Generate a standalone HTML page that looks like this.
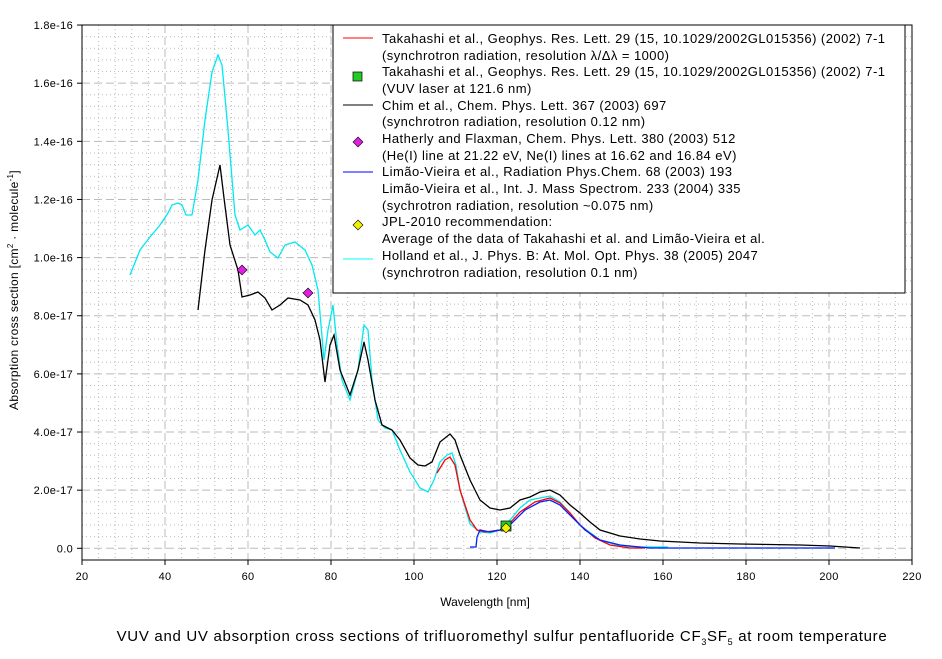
<!DOCTYPE html>
<html><head><meta charset="utf-8"><style>
body{margin:0;background:#fff;width:942px;height:654px;overflow:hidden;font-family:"Liberation Sans",sans-serif}
svg text{font-family:"Liberation Sans",sans-serif}
</style></head><body>
<svg id="s" width="942" height="654" xmlns="http://www.w3.org/2000/svg">
<g id="grid"></g>
<rect x="82" y="25" width="830" height="535" fill="none" stroke="#000" stroke-width="1"/>
<g id="ticks" font-size="11" letter-spacing="0.3"></g>
<g id="curves" fill="none" stroke-width="1.3"></g>
<polygon points="242,265 247,270 242,275 237,270" fill="#e020e0" stroke="#000" stroke-width="0.6"/>
<polygon points="308,288 313,293 308,298 303,293" fill="#e020e0" stroke="#000" stroke-width="0.6"/>
<rect x="501" y="521" width="10" height="10" fill="#22cc22" stroke="#000" stroke-width="0.7"/>
<polygon points="506,523 511,528 506,533 501,528" fill="#f0f000" stroke="#000" stroke-width="0.6"/>
<g>
<rect x="333" y="25" width="572" height="268" fill="#fff" stroke="#000"/>
<g font-size="13" letter-spacing="0.45" fill="#000">
<line x1="343" y1="38" x2="373" y2="38" stroke="#f00"/>
<text x="382" y="43">Takahashi et al., Geophys. Res. Lett. 29 (15, 10.1029/2002GL015356) (2002) 7-1</text>
<text x="382" y="60">(synchrotron radiation, resolution λ/Δλ = 1000)</text>
<rect x="353" y="72" width="9" height="9" fill="#22cc22" stroke="#000" stroke-width="0.7"/>
<text x="382" y="76">Takahashi et al., Geophys. Res. Lett. 29 (15, 10.1029/2002GL015356) (2002) 7-1</text>
<text x="382" y="93">(VUV laser at 121.6 nm)</text>
<line x1="343" y1="105" x2="373" y2="105" stroke="#000"/>
<text x="382" y="110">Chim et al., Chem. Phys. Lett. 367 (2003) 697</text>
<text x="382" y="126">(synchrotron radiation, resolution 0.12 nm)</text>
<polygon points="358,137 363,142 358,147 353,142" fill="#e020e0" stroke="#000" stroke-width="0.6"/>
<text x="382" y="143">Hatherly and Flaxman, Chem. Phys. Lett. 380 (2003) 512</text>
<text x="382" y="160">(He(I) line at 21.22 eV, Ne(I) lines at 16.62 and 16.84 eV)</text>
<line x1="343" y1="172" x2="373" y2="172" stroke="#00f"/>
<text x="382" y="176">Limão-Vieira et al., Radiation Phys.Chem. 68 (2003) 193</text>
<text x="382" y="193">Limão-Vieira et al., Int. J. Mass Spectrom. 233 (2004) 335</text>
<text x="382" y="210">(sychrotron radiation, resolution ~0.075 nm)</text>
<polygon points="358,220 363,225 358,230 353,225" fill="#f0f000" stroke="#000" stroke-width="0.6"/>
<text x="382" y="226">JPL-2010 recommendation:</text>
<text x="382" y="243">Average of the data of Takahashi et al. and Limão-Vieira et al.</text>
<line x1="343" y1="259" x2="373" y2="259" stroke="#0ff"/>
<text x="382" y="260">Holland et al., J. Phys. B: At. Mol. Opt. Phys. 38 (2005) 2047</text>
<text x="382" y="277">(synchrotron radiation, resolution 0.1 nm)</text>
</g></g>
<text x="485" y="606" font-size="12" text-anchor="middle">Wavelength [nm]</text>
<text transform="translate(18,290) rotate(-90)" font-size="12" letter-spacing="0.3" text-anchor="middle">Absorption cross section [cm<tspan font-size="8" dy="-5">2</tspan><tspan dy="5"> · molecule</tspan><tspan font-size="8" dy="-5">-1</tspan><tspan dy="5">]</tspan></text>
<text x="502" y="641" font-size="15" letter-spacing="0.7" text-anchor="middle">VUV and UV absorption cross sections of trifluoromethyl sulfur pentafluoride CF<tspan font-size="9" dy="4">3</tspan><tspan dy="-4">SF</tspan><tspan font-size="9" dy="4">5</tspan><tspan dy="-4"> at room temperature</tspan></text>
</svg>
<script>
var ns="http://www.w3.org/2000/svg";
function X(x){return 82+(x-20)*4.15}
function Y(y){return 548.3-y*29.07}
var g=document.getElementById('grid'),t=document.getElementById('ticks');
function L(p,x1,y1,x2,y2,st,da){var l=document.createElementNS(ns,'line');l.setAttribute('x1',x1);l.setAttribute('y1',y1);l.setAttribute('x2',x2);l.setAttribute('y2',y2);l.setAttribute('stroke',st);if(da)l.setAttribute('stroke-dasharray',da);p.appendChild(l);}
function T(x,y,s,a){var e=document.createElementNS(ns,'text');e.setAttribute('x',x);e.setAttribute('y',y);e.setAttribute('text-anchor',a);e.textContent=s;t.appendChild(e);}
for(var x=24;x<220;x+=4){if(x%20==0)continue;L(g,X(x),25,X(x),560,'#bbb','1 3');}
for(var y=-0.4;y<18;y+=0.4){var yy=Math.round(y*10);if(yy%20==0)continue;var py=Y(y);if(py>559||py<26)continue;L(g,82,py,912,py,'#bbb','1 3');}
for(var x=40;x<220;x+=20){L(g,X(x),25,X(x),560,'#bbb','8 4');}
for(var y=0;y<18;y+=2){L(g,82,Y(y),912,Y(y),'#bbb','8 4');}
for(var x=20;x<=220;x+=20){L(t,X(x),560,X(x),565,'#000');T(X(x),580,x,'middle');}
var yl=['0.0','2.0e-17','4.0e-17','6.0e-17','8.0e-17','1.0e-16','1.2e-16','1.4e-16','1.6e-16','1.8e-16'];
for(var i=0;i<10;i++){L(t,77,Y(i*2),82,Y(i*2),'#000');T(73,Y(i*2)+4,yl[i],'end');}
var c=document.getElementById('curves');
function P(pts,col){var p=document.createElementNS(ns,'polyline');p.setAttribute('points',pts);p.setAttribute('stroke',col);c.appendChild(p);}
P("130,275 140,250 150,237 160,225 168,213 172,205 178,203 182,205 186,215 192,215 198,180 205,120 212,72 218,55 222,65 228,130 235,215 240,230 248,225 255,235 260,230 265,240 270,252 278,258 285,245 295,242 305,250 312,265 318,290 324,360 328,330 333,305 337,345 342,380 350,400 358,370 364,325 368,330 372,380 378,420 385,428 392,430 400,450 410,472 420,488 428,492 434,480 440,462 447,455 452,453 456,465 460,490 470,524 480,532 490,533 500,530 510,520 520,508 530,500 550,496 560,502 570,513 580,525 600,540 620,546 640,547 668,547","#00e8f0");
P("198,310 205,250 212,200 220,165 224,198 230,245 238,270 242,297 250,295 258,292 265,298 272,310 280,305 288,298 300,300 308,305 315,320 320,340 325,382 330,345 334,335 340,370 350,395 358,370 364,342 368,360 375,400 382,425 392,430 400,440 410,458 418,465 425,466 432,462 440,442 450,434 455,440 460,455 470,480 480,500 490,508 500,510 510,508 520,500 530,497 540,492 550,490 560,495 570,505 580,513 590,522 600,530 620,536 640,539 660,541 700,543 740,544 800,545 830,546 860,548","#000");
P("437,473 445,460 450,457 455,465 460,490 470,520 477,530 485,532 500,530 510,523 520,512 535,502 550,498 560,503 570,513 580,525 595,538 610,545 630,548 645,548","#f00");
P("470,547 476,547 477,537 480,530 490,532 500,530 512,523 525,510 540,502 550,500 560,505 570,515 585,530 600,540 620,545 650,548 835,548","#0020ff");
</script>
</body></html>
